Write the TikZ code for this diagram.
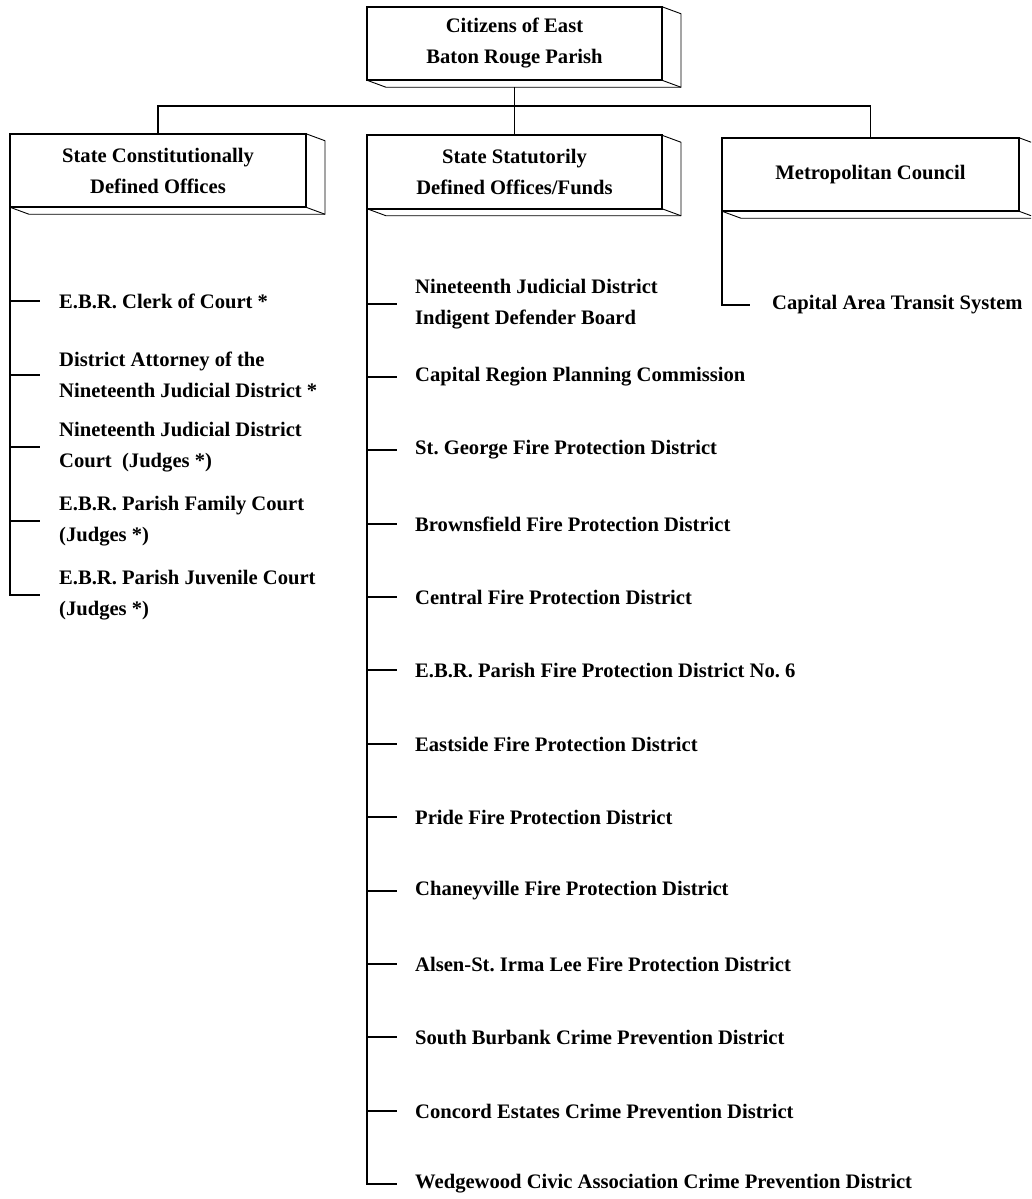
\documentclass[tikz,border=0pt]{standalone}
\usepackage{fontspec}
\setmainfont{Liberation Serif}
\usetikzlibrary{calc}
\frenchspacing
\newcommand\extrude[1]{%
  \draw[side] (#1.north east) -- ++(19,7) -- ($(#1.south east)+(19,7)$) -- ($(#1.south west)+(19,7)$) -- (#1.south west);
  \draw[side] (#1.south east) -- ++(19,7);}
\begin{document}
\begin{tikzpicture}[x=1pt,y=-1pt,
  every node/.style={font=\bfseries\fontsize{20.6}{31}\selectfont},
  hbox/.style={draw, line width=1.7pt, outer sep=0pt, minimum width=295pt, minimum height=73.5pt, align=center, inner sep=0pt},
  leaf/.style={anchor=west, align=left, inner sep=0pt},
  conn/.style={line width=1.4pt},
  side/.style={line width=0.9pt, line join=miter}]
\clip (0,0) rectangle (1031,1199);
% top boxes
\node[hbox] (top) at (514.5,43.5) {Citizens of East\\Baton Rouge Parish};
\extrude{top}
\node[hbox, minimum width=296pt] (b1) at (158,170.5) {State Constitutionally\\Defined Offices};
\extrude{b1}
\node[hbox] (b2) at (514.5,172) {State Statutorily\\Defined Offices/Funds};
\extrude{b2}
\node[hbox, minimum width=297pt] (b3) at (870.5,174.5) {Metropolitan Council};
\extrude{b3}
% bus
\coordinate (topbot) at ($(top.south)+(0,7)$);
\coordinate (bus) at (514.5,106);
\draw[conn] (topbot) -- (bus) -- (b2.north);
\draw[conn] (b1.north) |- (bus) -| (b3.north);
% left column
\node[leaf] (l1) at (59,301) {E.B.R. Clerk of Court *};
\node[leaf] (l2) at (59,375) {District Attorney of the\\Nineteenth Judicial District *};
\node[leaf] (l3) at (59,447) {Nineteenth Judicial District\\Court~ (Judges *)};
\node[leaf] (l4) at (59,521) {E.B.R. Parish Family Court\\(Judges *)};
\node[leaf] (l5) at (59,595) {E.B.R. Parish Juvenile Court\\(Judges *)};
\foreach \i in {1,...,4}
  \draw[conn, shorten >=19pt] (b1.south west |- l\i.west) -- (l\i.west);
\draw[conn, shorten >=19pt] (b1.south west) |- (l5.west);
% middle column
\foreach \t [count=\i] in {{Nineteenth Judicial District\\Indigent Defender Board},
  Capital Region Planning Commission,
  St.\ George Fire Protection District,
  Brownsfield Fire Protection District,
  Central Fire Protection District,
  E.B.R. Parish Fire Protection District No.\ 6,
  Eastside Fire Protection District,
  Pride Fire Protection District,
  Chaneyville Fire Protection District,
  Alsen-St.\ Irma Lee Fire Protection District,
  South Burbank Crime Prevention District,
  Concord Estates Crime Prevention District,
  Wedgewood Civic Association Crime Prevention District}
  \node[leaf] (m\i) at (415,{round(303.5+73.4*(\i-1))}) {\t};
\foreach \i in {1,...,12}
  \draw[conn, shorten >=18pt] (b2.south west |- m\i.west) -- (m\i.west);
\draw[conn, shorten >=18pt] (b2.south west) |- (m13.west);
% right column
\node[leaf] (r1) at (772,305) {Capital Area Transit System};
\draw[conn, shorten >=22pt] (b3.south west) |- (r1.west);
\end{tikzpicture}
\end{document}
